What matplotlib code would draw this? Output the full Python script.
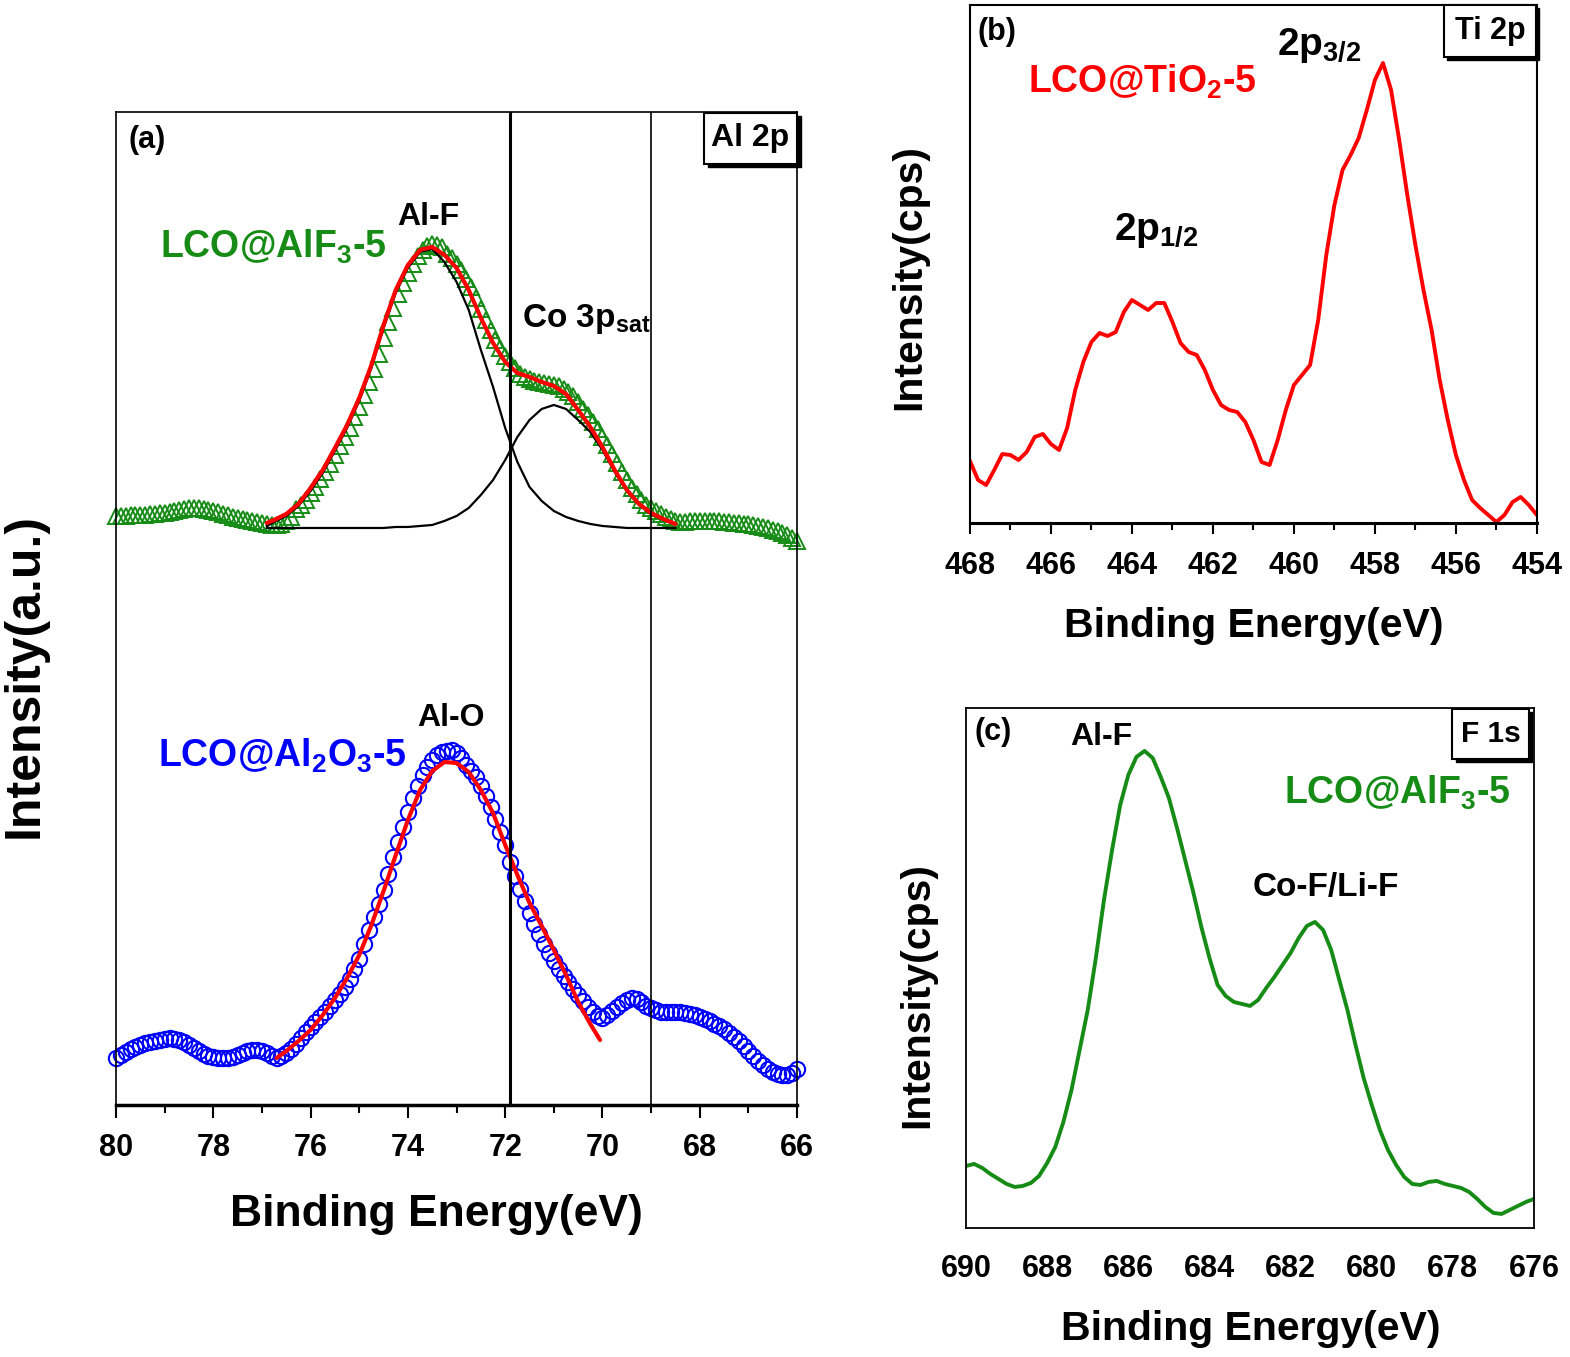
import numpy as np
import matplotlib
matplotlib.use("Agg")
import matplotlib.pyplot as plt
from matplotlib.patches import Rectangle
from matplotlib.ticker import MultipleLocator
from matplotlib.transforms import ScaledTranslation

plt.rcParams["font.family"] = ["Liberation Sans", "DejaVu Sans"]
plt.rcParams["font.weight"] = "bold"
plt.rcParams["axes.labelweight"] = "bold"
plt.rcParams["mathtext.fontset"] = "custom"
plt.rcParams["mathtext.rm"] = "Liberation Sans:bold"
plt.rcParams["mathtext.bf"] = "Liberation Sans:bold"
plt.rcParams["mathtext.it"] = "Liberation Sans:bold"
plt.rcParams["mathtext.sf"] = "Liberation Sans:bold"
plt.rcParams["mathtext.default"] = "rm"

GREEN = "#168c16"
BLUE = "#0000ff"
RED = "#ff0000"

# ---- (a) Al 2p ----
e_al = np.linspace(80.0, 66.0, 141)

alf3_data = [
    589, 589, 589, 590, 590, 590, 590, 591, 591, 592,
    592, 593, 594, 595, 596, 597, 597, 597, 596, 595,
    594, 593, 591, 590, 588, 587, 586, 585, 584, 583,
    582, 581, 580, 580, 581, 584, 588, 596, 600, 605,
    612, 618, 626, 633, 641, 650, 659, 668, 677, 688,
    698, 710, 723, 736, 751, 767, 783, 797, 811, 822,
    832, 841, 849, 855, 859, 861, 860, 858, 851, 847,
    841, 835, 826, 818, 807, 796, 785, 775, 765, 757,
    749, 743, 737, 731, 728, 726, 724, 723, 722, 721,
    720, 719, 716, 713, 709, 703, 696, 690, 683, 676,
    668, 660, 651, 642, 633, 625, 617, 611, 605, 600,
    597, 594, 591, 588, 586, 584, 583, 583, 584, 584,
    584, 584, 584, 584, 584, 583, 583, 582, 582, 581,
    581, 580, 579, 578, 577, 575, 574, 572, 570, 567,
    564,
]

al2o3_data = [
    47, 50, 53, 56, 58, 60, 62, 63, 64, 65,
    66, 67, 66, 65, 63, 60, 57, 54, 51, 49,
    48, 47, 47, 47, 48, 50, 52, 54, 55, 55,
    54, 52, 49, 47, 49, 52, 56, 61, 67, 73,
    78, 83, 88, 93, 99, 105, 111, 118, 126, 136,
    146, 161, 175, 188, 201, 215, 231, 248, 263, 278,
    293, 307, 319, 330, 338, 345, 350, 353, 354, 355,
    352, 347, 340, 334, 328, 319, 309, 298, 286, 273,
    260, 243, 229, 216, 204, 192, 181, 171, 161, 152,
    144, 136, 129, 123, 116, 110, 104, 98, 93, 89,
    87, 90, 94, 98, 102, 105, 107, 106, 103, 99,
    97, 95, 93, 93, 93, 93, 93, 92, 91, 90,
    88, 86, 84, 81, 79, 76, 72, 68, 64, 59,
    54, 49, 44, 40, 36, 33, 31, 30, 30, 32,
    36,
]

e_fit_alf = [76.9, 76.75, 76.5, 76.25, 76.0, 75.75, 75.5, 75.25, 75.0, 74.75,
             74.5, 74.25, 74.0, 73.75, 73.5, 73.25, 73.0, 72.75, 72.5, 72.25,
             72.0, 71.75, 71.5, 71.25, 71.0, 70.75, 70.5, 70.25, 70.0, 69.75,
             69.5, 69.25, 69.0, 68.75, 68.5]
fit_alf = [582, 585, 591, 601, 617, 635, 657, 680, 707, 740,
           780, 815, 840, 855, 858, 850, 837, 815, 787, 762,
           743, 732, 728, 723, 719, 711, 695, 678, 658, 635,
           615, 601, 592, 586, 581]
peak_alf = [579, 583, 589, 599, 614, 632, 654, 677, 704, 737,
            777, 812, 837, 853, 856, 843, 823, 795, 755, 718,
            677, 643, 618, 604, 594, 588, 584, 581, 579, 578,
            577, 577, 577, 577, 577]
peak_co3p = [577, 577, 577, 577, 577, 577, 577, 577, 577, 577,
             577, 578, 578, 579, 580, 584, 589, 597, 610, 625,
             645, 668, 685, 696, 700, 696, 685, 673, 655, 633,
             614, 600, 591, 585, 581]

e_fit_alo = [76.7, 76.5, 76.25, 76.0, 75.75, 75.5, 75.25, 75.0, 74.75, 74.5,
             74.25, 74.0, 73.75, 73.5, 73.25, 73.0, 72.75, 72.5, 72.25, 72.0,
             71.75, 71.5, 71.25, 71.0, 70.75, 70.5, 70.25, 70.05]
fit_alo = [47, 54, 64, 75, 90, 107, 127, 150, 180, 214,
           250, 285, 315, 334, 343, 342, 333, 315, 292, 260,
           230, 202, 179, 155, 130, 103, 81, 65]

guide_lines = [71.9, 69.0]

# ---- (b) Ti 2p ----
e_ti = np.linspace(468.0, 454.0, 71)
ti2p = [
    62, 43, 38, 53, 69, 68, 63, 71, 86, 89,
    79, 73, 95, 133, 161, 181, 190, 187, 191, 211,
    223, 218, 213, 220, 220, 201, 180, 171, 168, 153,
    133, 118, 113, 111, 101, 83, 61, 58, 83, 113,
    138, 148, 158, 203, 268, 318, 353, 368, 385, 413,
    443, 460, 433, 383, 328, 278, 233, 193, 143, 103,
    68, 43, 23, 15, 8, 1, 8, 21, 26, 18,
    8,
]

# ---- (c) F 1s ----
e_f = np.linspace(690.0, 676.0, 71)
f1s = [
    62, 64, 60, 54, 49, 44, 41, 42, 45, 52,
    65, 81, 106, 138, 178, 218, 270, 328, 378, 423,
    453, 471, 477, 470, 451, 430, 400, 368, 336, 301,
    270, 243, 232, 226, 224, 222, 228, 240, 251, 263,
    275, 290, 302, 306, 298, 278, 248, 218, 183, 150,
    123, 98, 78, 63, 51, 44, 43, 46, 47, 44,
    42, 40, 36, 29, 21, 15, 14, 18, 22, 26,
    29,
]

fig = plt.figure(figsize=(15.7, 13.57), dpi=100)
ax_a = fig.add_axes([0.0739, 0.1857, 0.4338, 0.7318])
ax_b = fig.add_axes([0.6178, 0.6146, 0.3611, 0.3817])
ax_c = fig.add_axes([0.6153, 0.0951, 0.3618, 0.3832])


def setup_axis(ax, xlim, ylim, tick_len, pad, size):
    ax.set_xlim(*xlim)
    ax.set_ylim(*ylim)
    ax.xaxis.set_major_locator(MultipleLocator(2))
    ax.xaxis.set_minor_locator(MultipleLocator(1))
    ax.set_yticks([])
    ax.tick_params(axis="x", which="major", direction="out", length=tick_len,
                   width=1.5, pad=pad, labelsize=size)
    ax.tick_params(axis="x", which="minor", direction="out",
                   length=tick_len * 0.6, width=1.5)


def corner_box(ax, x0, y0, x1, y1, text, size):
    shadow_tr = ax.transAxes + ScaledTranslation(2.5 / 72, -2.5 / 72, fig.dpi_scale_trans)
    ax.add_patch(Rectangle((x0, y0), x1 - x0, y1 - y0, transform=shadow_tr,
                           fc="black", ec="black", lw=1, clip_on=False, zorder=8))
    ax.add_patch(Rectangle((x0, y0), x1 - x0, y1 - y0, transform=ax.transAxes,
                           fc="white", ec="black", lw=1.5, clip_on=False, zorder=9))
    ax.text((x0 + x1) / 2, (y0 + y1) / 2, text, transform=ax.transAxes,
            ha="center", va="center", fontsize=size, zorder=10)


# panel (a)
setup_axis(ax_a, (80, 66), (0, 993), 9, 11, 22)
for side in ["left", "top", "right"]:
    ax_a.spines[side].set_linewidth(1.2)
ax_a.spines["bottom"].set_linewidth(2.5)

ax_a.plot(e_al, alf3_data, linestyle="none", marker="^", markersize=12,
          markerfacecolor="none", markeredgecolor=GREEN, markeredgewidth=1.4,
          clip_on=False, zorder=2)
ax_a.plot(e_al, al2o3_data, linestyle="none", marker="o", markersize=11,
          markerfacecolor="none", markeredgecolor=BLUE, markeredgewidth=1.5,
          clip_on=False, zorder=2)
ax_a.plot(e_fit_alf, peak_alf, color="black", lw=1.6, zorder=3)
ax_a.plot(e_fit_alf, peak_co3p, color="black", lw=1.6, zorder=3)
ax_a.plot(e_fit_alf, fit_alf, color=RED, lw=3, zorder=4,
          solid_capstyle="round", solid_joinstyle="round")
ax_a.plot(e_fit_alo, fit_alo, color=RED, lw=3, zorder=4,
          solid_capstyle="round", solid_joinstyle="round")
ax_a.axvline(guide_lines[0], color="black", lw=2.2, zorder=5)
ax_a.axvline(guide_lines[1], color="black", lw=1.2, zorder=5)

ax_a.set_xlabel("Binding Energy(eV)", fontsize=32)
ax_a.xaxis.set_label_coords(0.471, -0.090)
ax_a.set_ylabel("Intensity(a.u.)", fontsize=36)
ax_a.yaxis.set_label_coords(-0.10, 0.433)

ax_a.text(0.0455, 0.972, "(a)", transform=ax_a.transAxes, ha="center",
          va="center", fontsize=22)
ax_a.text(0.0646, 0.853, r"LCO@AlF$_3$-5", transform=ax_a.transAxes,
          ha="left", va="baseline", fontsize=27, color=GREEN)
ax_a.text(0.458, 0.886, "Al-F", transform=ax_a.transAxes, ha="center",
          va="baseline", fontsize=23)
ax_a.text(0.596, 0.7835, r"Co 3p$_{sat}$", transform=ax_a.transAxes,
          ha="left", va="baseline", fontsize=24)
ax_a.text(0.492, 0.3817, "Al-O", transform=ax_a.transAxes, ha="center",
          va="baseline", fontsize=23)
ax_a.text(0.0617, 0.3404, r"LCO@Al$_2$O$_3$-5", transform=ax_a.transAxes,
          ha="left", va="baseline", fontsize=27, color=BLUE)
corner_box(ax_a, 0.8634, 0.9476, 1.0, 0.999, "Al 2p", 23)

# panel (b)
setup_axis(ax_b, (468, 454), (0, 518), 8, 12, 22)
for side in ["left", "top", "right"]:
    ax_b.spines[side].set_linewidth(1.5)
ax_b.spines["bottom"].set_linewidth(2.2)
ax_b.plot(e_ti, ti2p, color=RED, lw=2.8, solid_joinstyle="round")
ax_b.set_xlabel("Binding Energy(eV)", fontsize=29.5)
ax_b.xaxis.set_label_coords(0.501, -0.162)
ax_b.set_ylabel("Intensity(cps)", fontsize=29.5)
ax_b.yaxis.set_label_coords(-0.074, 0.475)
ax_b.text(0.0476, 0.948, "(b)", transform=ax_b.transAxes, ha="center",
          va="center", fontsize=22)
ax_b.text(0.102, 0.830, r"LCO@TiO$_2$-5", transform=ax_b.transAxes,
          ha="left", va="baseline", fontsize=27, color=RED)
ax_b.text(0.541, 0.9035, r"2p$_{3/2}$", transform=ax_b.transAxes,
          ha="left", va="baseline", fontsize=28)
ax_b.text(0.254, 0.546, r"2p$_{1/2}$", transform=ax_b.transAxes,
          ha="left", va="baseline", fontsize=28)
corner_box(ax_b, 0.836, 0.8996, 0.998, 1.0, "Ti 2p", 22)

# panel (c)
setup_axis(ax_c, (690, 676), (0, 520), 0, 19, 22)
for side in ["left", "top", "right", "bottom"]:
    ax_c.spines[side].set_linewidth(1.3)
ax_c.plot(e_f, f1s, color=GREEN, lw=2.8, solid_joinstyle="round")
ax_c.set_xlabel("Binding Energy(eV)", fontsize=29.5)
ax_c.xaxis.set_label_coords(0.502, -0.158)
ax_c.set_ylabel("Intensity(cps)", fontsize=29.5)
ax_c.yaxis.set_label_coords(-0.053, 0.448)
ax_c.text(0.0475, 0.954, "(c)", transform=ax_c.transAxes, ha="center",
          va="center", fontsize=22)
ax_c.text(0.183, 0.929, "Al-F", transform=ax_c.transAxes, ha="left",
          va="baseline", fontsize=23)
ax_c.text(0.505, 0.638, "Co-F/Li-F", transform=ax_c.transAxes, ha="left",
          va="baseline", fontsize=24)
ax_c.text(0.560, 0.815, r"LCO@AlF$_3$-5", transform=ax_c.transAxes,
          ha="left", va="baseline", fontsize=27, color=GREEN)
corner_box(ax_c, 0.856, 0.902, 0.991, 0.998, "F 1s", 21.5)

fig.savefig("out.png", dpi=100)
